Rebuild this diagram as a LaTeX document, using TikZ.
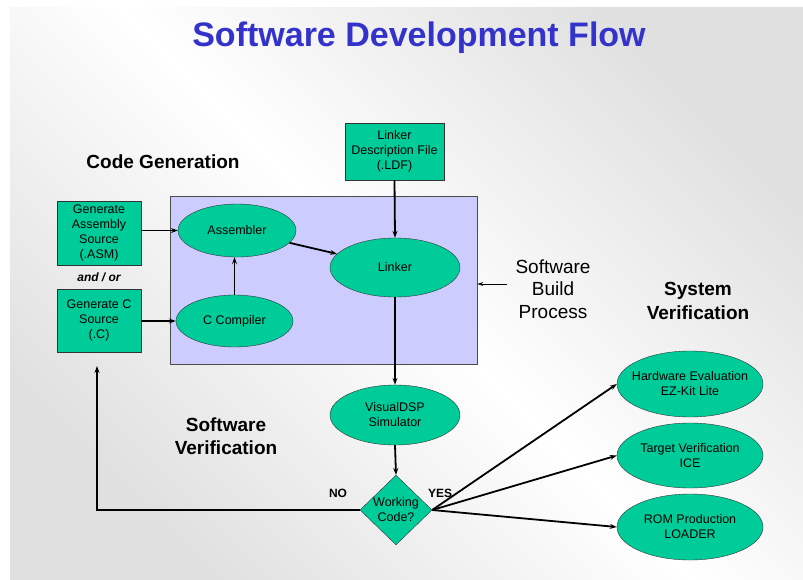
\documentclass[tikz,border=0pt]{standalone}
\usepackage{fontspec}
\setmainfont{Liberation Sans}
\usetikzlibrary{shapes.geometric,arrows.meta}
\definecolor{sgreen}{RGB}{0,204,153}
\definecolor{lav}{RGB}{204,204,255}
\definecolor{tblue}{RGB}{51,51,204}
\definecolor{bgray}{RGB}{224,224,224}
\begin{document}
\begin{tikzpicture}[x=1pt,y=-1pt,
  txt/.style={font=\fontsize{12.5}{15}\selectfont, align=center},
  gbox/.style={txt, draw=black!80, fill=sgreen, inner sep=0pt},
  oval/.style={txt, ellipse, draw=black!80, fill=sgreen, inner sep=0pt},
  head/.style={font=\fontsize{19}{23.5}\selectfont\bfseries, align=center},
  arr/.style={-{Stealth[length=7pt,width=5pt,inset=2.5pt]}, line width=1.1pt},
  thk/.style={-{Stealth[length=7pt,width=5pt,inset=2.5pt]}, line width=1.8pt}
]
\useasboundingbox (0,0) rectangle (803,579);
\fill[white] (0,0) rectangle (803,579);
\shade[top color=bgray, bottom color=bgray, middle color=white, shading angle=-45] (10,7) rectangle (803,579);

% title
\node[font=\fontsize{34}{40}\selectfont\bfseries, text=tblue] (title) at (419,38) {Software Development Flow};

% build box
\node[draw=black!70, fill=lav, minimum width=307, minimum height=168, inner sep=0pt, line width=0.8pt] (build) at (323.5,280) {};

% left boxes
\node[gbox, minimum width=84, minimum height=64] (asmsrc) at (99,233) {Generate\\Assembly\\Source\\(.ASM)};
\node[gbox, minimum width=84, minimum height=63] (csrc) at (99,320.5) {Generate C\\Source\\(.C)};
\node[font=\fontsize{12}{14}\selectfont\bfseries\itshape] (andor) at (99,277) {and / or};

% LDF
\node[gbox, minimum width=99, minimum height=57] (ldf) at (394.5,151.5) {Linker\\Description File\\(.LDF)};

% ellipses
\node[oval, minimum width=118, minimum height=53] (asm) at (237,230.5) {Assembler};
\node[oval, minimum width=117, minimum height=52] (cc) at (234.5,321) {C Compiler};
\node[oval, minimum width=130, minimum height=59] (lnk) at (395,267.5) {Linker};
\node[oval, minimum width=130, minimum height=60] (sim) at (395,415) {VisualDSP\\Simulator};
\node[txt, diamond, draw=black!80, fill=sgreen, inner sep=0pt, minimum width=72, minimum height=66] (wc) at (396,510) {Working\\Code?};

\node[oval, inner xsep=-8pt, minimum width=146, minimum height=66] (hw) at (690,384) {Hardware Evaluation\\EZ-Kit Lite};
\node[oval, inner xsep=-8pt, minimum width=146, minimum height=65] (tv) at (690,455.5) {Target Verification\\ICE};
\node[oval, inner xsep=-8pt, minimum width=146, minimum height=66] (rom) at (690,527) {ROM Production\\LOADER};

% headings
\node[head] (cg) at (163,162) {Code Generation};
\node[font=\fontsize{19}{22.5}\selectfont, align=center] (sbp) at (553,289) {Software\\Build\\Process};
\node[head] (sv) at (698,301) {System\\Verification};
\node[head] (swv) at (226,436) {Software\\Verification};
\node[font=\fontsize{12}{14}\selectfont\bfseries] (no) at (338,493) {NO};
\node[font=\fontsize{12}{14}\selectfont\bfseries] (yes) at (440,493) {YES};

% connectors
\draw[arr] (asmsrc.east |- asm) -- (asm.west);
\draw[arr] (csrc.east |- cc) -- (cc.west);
\draw[thk] (cc.north) -- (cc.north |- asm.south);
\draw[thk] (asm) -- (lnk);
\draw[thk] (ldf.south) -- (lnk.north);
\draw[thk] (lnk.south) -- (sim.north);
\draw[thk] (sim.south) -- (wc.north);
\coordinate (sbpstart) at (507,284);
\draw[-{Stealth[length=6pt,width=4pt,inset=2pt]}, line width=0.7pt] (sbpstart) -- (sbpstart -| build.east);
\coordinate (noturn) at (97,510);
\coordinate (noend) at (97,366);
\draw[thk, line width=2.2pt] (wc.west) -- (noturn) -- (noend);
\draw[thk] (wc.east) -- (hw.west);
\draw[thk] (wc.east) -- (tv.west);
\draw[thk] (wc.east) -- (rom.west);
\end{tikzpicture}
\end{document}
